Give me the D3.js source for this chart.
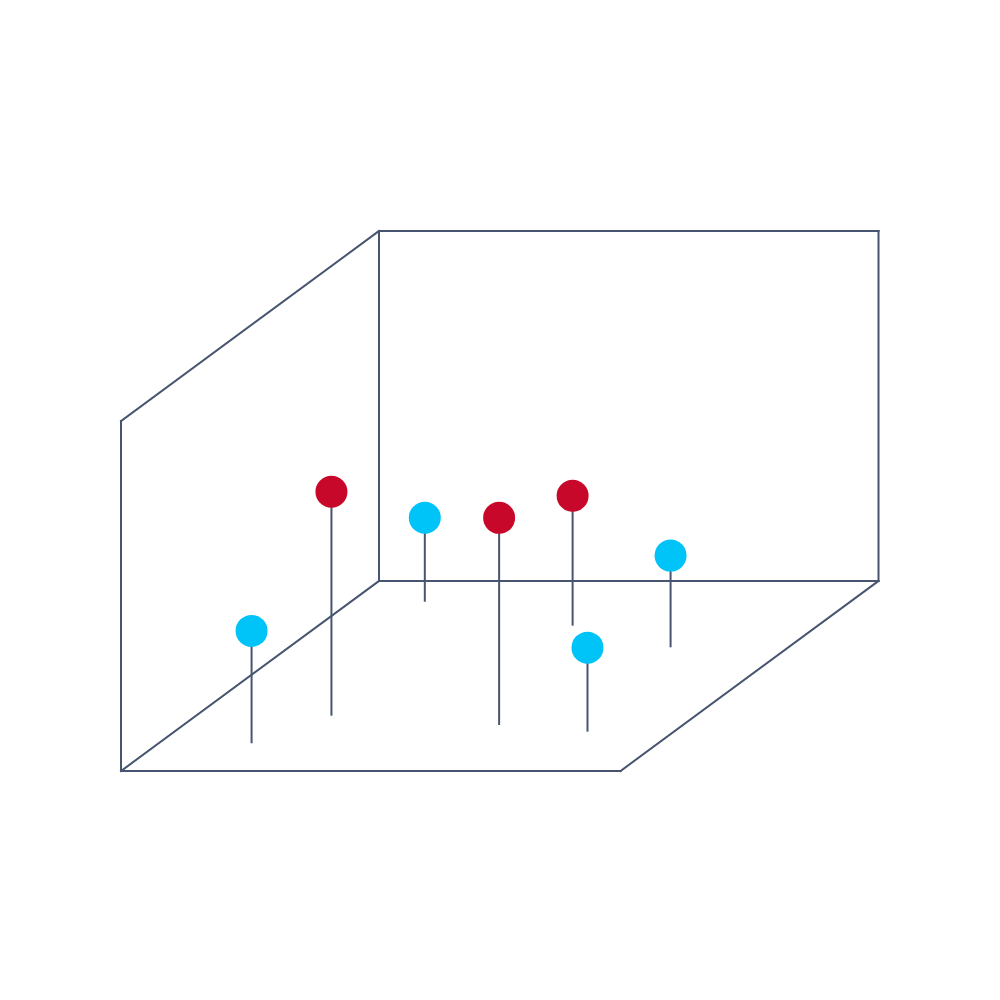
<!DOCTYPE html>
<html><head><meta charset="utf-8">
<script src="https://cdn.jsdelivr.net/npm/d3@7"></script>
<style>html,body{margin:0;padding:0;background:#fff;}</style>
</head><body>
<script>
// Data (domain 0..10 on every axis)
const xValues     = [1.86, 2.71, 1.48, 6.32, 5.09, 8.27, 7.64];
const depthValues = [1.46, 2.91, 8.91, 2.42, 7.65, 2.07, 6.51];
const heightValues= [3.21, 6.40, 2.40, 5.92, 3.71, 2.40, 2.62];
const groups      = ["B", "A", "B", "A", "A", "B", "B"];
const groupColors = {A: "#c8082a", B: "#00c4f8"};

const W = 1000, H = 1000;
const origin = {x: 121, y: 771};
const svg = d3.select("body").append("svg").attr("width", W).attr("height", H);

const xScale = d3.scaleLinear().domain([0, 10]).range([0, 499.5]);
const dX = d3.scaleLinear().domain([0, 10]).range([0, 258]);
const dY = d3.scaleLinear().domain([0, 10]).range([0, -190]);
const zScale = d3.scaleLinear().domain([0, 10]).range([0, 350]);

function proj(x, d, z) {
  return [origin.x + xScale(x) + dX(d), origin.y + dY(d) - zScale(z)];
}
const stroke = "#475570";

// box edges
const edges = [
  [[0,0,0],[10,0,0]],
  [[0,0,0],[0,10,0]],
  [[10,0,0],[10,10,0]],
  [[0,10,0],[10,10,0]],
  [[0,0,0],[0,0,10]],
  [[0,10,0],[0,10,10]],
  [[10,10,0],[10,10,10]],
  [[0,0,10],[0,10,10]],
  [[0,10,10],[10,10,10]]
];
svg.append("g").selectAll("line").data(edges).join("line")
  .attr("x1", e => proj(...e[0])[0]).attr("y1", e => proj(...e[0])[1])
  .attr("x2", e => proj(...e[1])[0]).attr("y2", e => proj(...e[1])[1])
  .attr("stroke", stroke).attr("stroke-width", 2).attr("stroke-linecap", "square");

const pts = xValues.map((x, i) => ({x, d: depthValues[i], z: heightValues[i], g: groups[i]}));
// draw back to front
pts.sort((a, b) => b.d - a.d);
const g = svg.append("g");
g.selectAll("line").data(pts).join("line")
  .attr("x1", p => proj(p.x, p.d, 0)[0]).attr("y1", p => proj(p.x, p.d, 0)[1])
  .attr("x2", p => proj(p.x, p.d, p.z)[0]).attr("y2", p => proj(p.x, p.d, p.z)[1])
  .attr("stroke", stroke).attr("stroke-width", 2);
g.selectAll("circle").data(pts).join("circle")
  .attr("cx", p => proj(p.x, p.d, p.z)[0]).attr("cy", p => proj(p.x, p.d, p.z)[1])
  .attr("r", 16).attr("fill", p => groupColors[p.g]);
</script>
</body></html>
